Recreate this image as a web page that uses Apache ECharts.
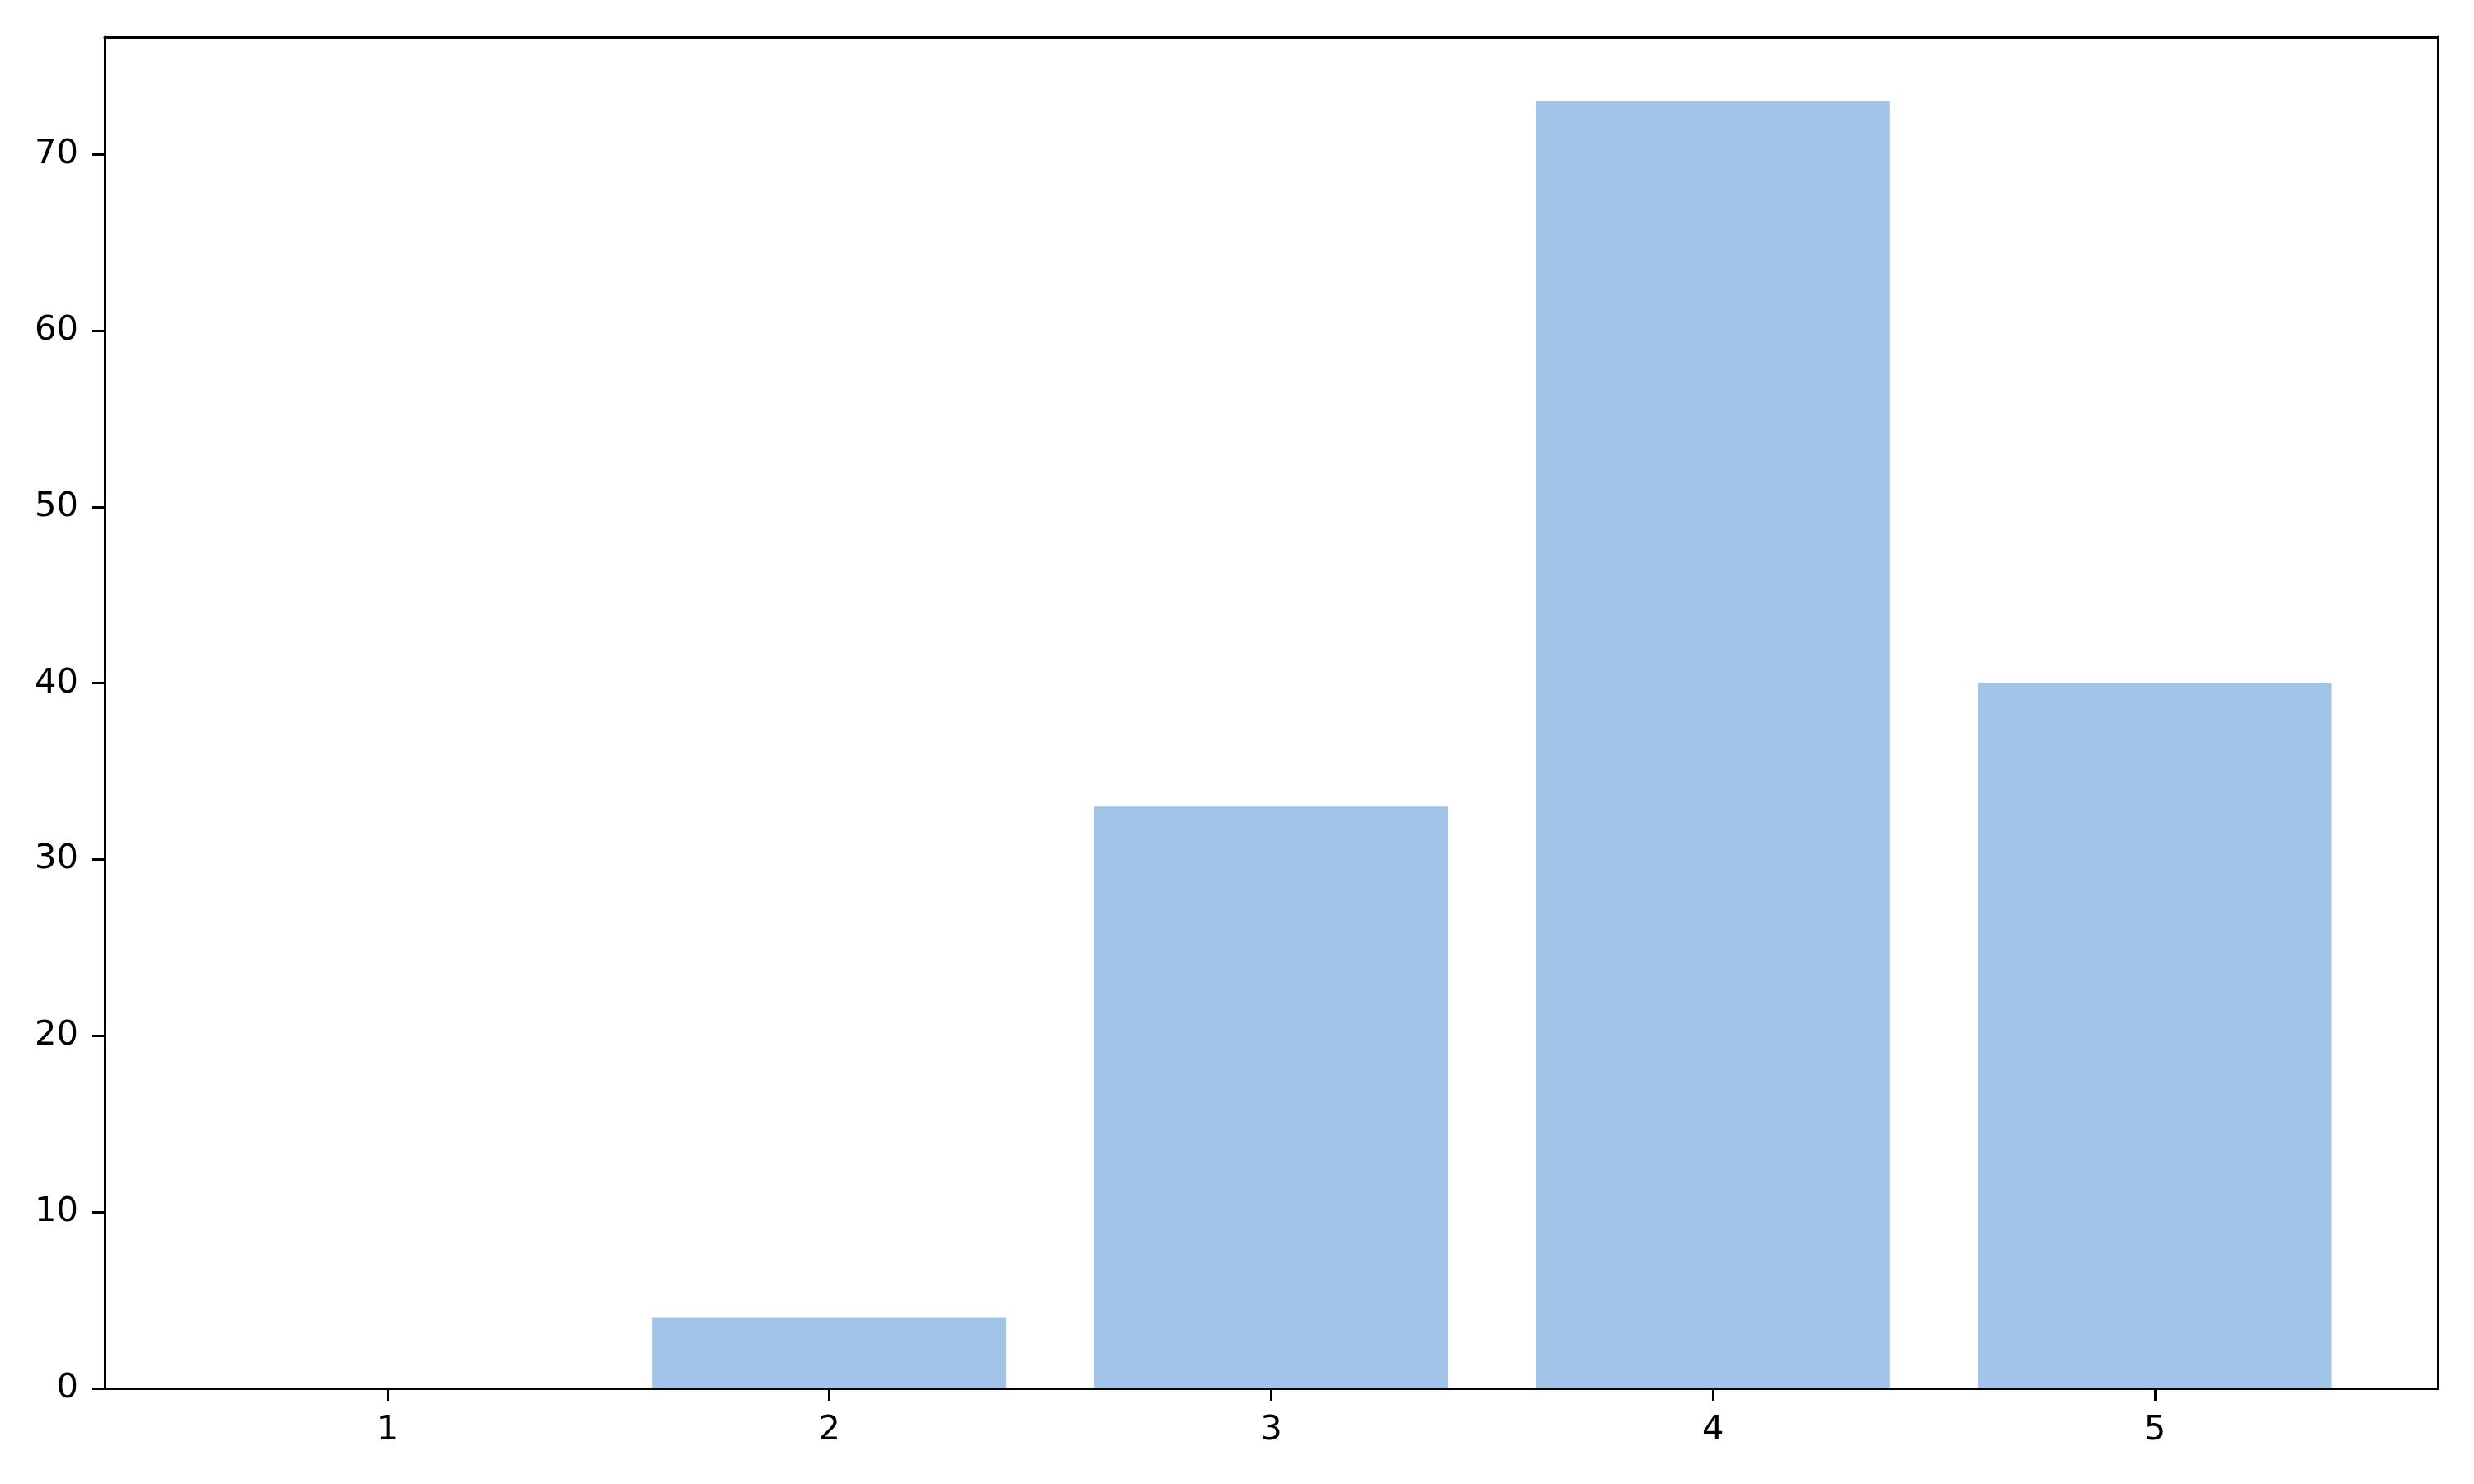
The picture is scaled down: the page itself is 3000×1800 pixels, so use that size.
<!DOCTYPE html>
<html>
<head>
<meta charset="utf-8">
<script src="https://cdn.jsdelivr.net/npm/echarts@6/dist/echarts.min.js"></script>
<style>
  html, body { margin: 0; padding: 0; background: #fff; }
  #chart { width: 3000px; height: 1800px; }
</style>
</head>
<body>
<div id="chart"></div>
<script>
// bar positions and heights
const categories = [1, 2, 3, 4, 5];
const counts = [0, 4, 33, 73, 40];
const yTicks = [0, 10, 20, 30, 40, 50, 60, 70];

const chart = echarts.init(document.getElementById('chart'));

const axisFont = { color: '#000', fontSize: 41.7, fontFamily: 'DejaVu Sans' };
const frameLine = { show: true, onZero: false, lineStyle: { color: '#000', width: 3 } };

const option = {
  animation: false,
  backgroundColor: '#fff',
  grid: { left: 127, right: 44, top: 45, bottom: 116 },
  xAxis: [{
    type: 'value',
    min: 0.36,
    max: 5.64,
    splitLine: { show: false },
    axisLine: frameLine,
    axisTick: { show: true, inside: false, length: 15, lineStyle: { color: '#000', width: 3 }, customValues: categories },
    axisLabel: { ...axisFont, margin: 30, customValues: categories, formatter: v => String(v) }
  }, {
    type: 'value', position: 'top', min: 0.36, max: 5.64,
    splitLine: { show: false }, axisLine: frameLine, axisTick: { show: false }, axisLabel: { show: false }
  }],
  yAxis: [{
    type: 'value',
    min: 0,
    max: 76.65,
    splitLine: { show: false },
    axisLine: frameLine,
    axisTick: { show: true, inside: false, length: 15, lineStyle: { color: '#000', width: 3 }, customValues: yTicks },
    axisLabel: { ...axisFont, margin: 32, customValues: yTicks, formatter: v => String(v) }
  }, {
    type: 'value', position: 'right', min: 0, max: 76.65,
    splitLine: { show: false }, axisLine: frameLine, axisTick: { show: false }, axisLabel: { show: false }
  }],
  series: [{
    type: 'bar',
    data: categories.map((c, i) => [c, counts[i]]),
    barWidth: 429,
    z: 1,
    itemStyle: { color: '#a1c4e8', borderWidth: 0 }
  }]
};

chart.setOption(option);
</script>
</body>
</html>
